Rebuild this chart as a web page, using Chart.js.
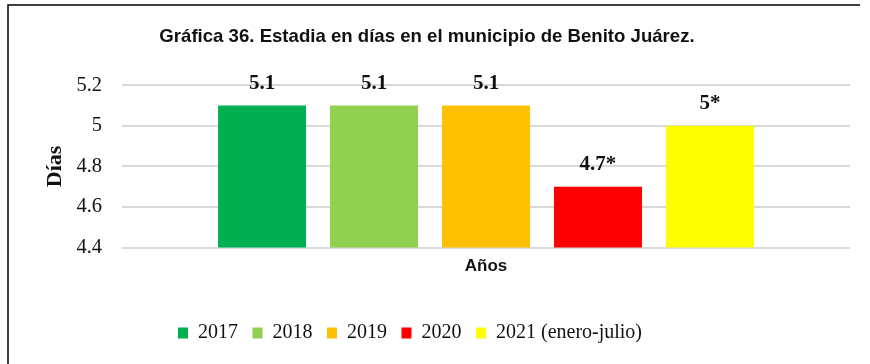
<!DOCTYPE html>
<html>
<head>
<meta charset="utf-8">
<script src="https://cdn.jsdelivr.net/npm/chart.js@4/dist/chart.umd.min.js"></script>
<style>
  html, body { margin: 0; padding: 0; background: #fff; }
  #wrap { position: relative; width: 870px; height: 364px; }
</style>
</head>
<body>
<div id="wrap"><canvas id="c" width="870" height="364"></canvas></div>
<script>
// Stay length (days) per year
const years = ['2017', '2018', '2019', '2020', '2021 (enero-julio)'];
const values = [5.1, 5.1, 5.1, 4.7, 5.0];
const valueLabels = ['5.1', '5.1', '5.1', '4.7*', '5*'];
const barColors = ['#00B050', '#92D050', '#FFC000', '#FF0000', '#FFFF00'];
const yTicks = [4.4, 4.6, 4.8, 5.0, 5.2];

const SERIF = '"Liberation Serif", "Times New Roman", serif';
const SANS = '"Liberation Sans", Arial, sans-serif';

// One dataset per year, all sharing a single category
const datasets = years.map((y, i) => ({
  label: y,
  data: [values[i]],
  backgroundColor: barColors[i],
  borderWidth: 0,
  valueLabel: valueLabels[i]
}));

// Value labels above each bar
const valueLabelPlugin = {
  id: 'valueLabels',
  afterDatasetsDraw(chart) {
    const ctx = chart.ctx;
    ctx.save();
    ctx.font = 'bold 21px ' + SERIF;
    ctx.fillStyle = '#111';
    ctx.textAlign = 'center';
    ctx.textBaseline = 'middle';
    chart.data.datasets.forEach((ds, i) => {
      const bar = chart.getDatasetMeta(i).data[0];
      ctx.fillText(ds.valueLabel, bar.x, bar.y - 22.5);
    });
    ctx.restore();
  }
};

// Nudge the legend row a little to the left of the centre
const legendShiftPlugin = {
  id: 'legendShift',
  afterLayout(chart) {
    if (chart.legend) {
      chart.legend.left -= 17;
      chart.legend.right -= 17;
    }
  }
};

// Outer frame lines (top and left edge)
const framePlugin = {
  id: 'frame',
  afterDraw(chart) {
    const ctx = chart.ctx;
    ctx.save();
    ctx.strokeStyle = '#000';
    ctx.lineWidth = 1.5;
    ctx.beginPath();
    ctx.moveTo(8, 364);
    ctx.lineTo(8, 5);
    ctx.lineTo(860, 5);
    ctx.stroke();
    ctx.restore();
  }
};

new Chart(document.getElementById('c'), {
  type: 'bar',
  data: { labels: [''], datasets },
  plugins: [valueLabelPlugin, legendShiftPlugin, framePlugin],
  options: {
    responsive: false,
    animation: false,
    events: [],
    categoryPercentage: 0.769,
    barPercentage: 0.786,
    layout: { padding: { left: 4, right: 20, top: 4, bottom: 11 } },
    plugins: {
      title: {
        display: true,
        text: 'Gráfica 36. Estadia en días en el municipio de Benito Juárez.',
        font: { family: SANS, size: 18.6, weight: 'bold' },
        color: '#111',
        padding: { top: 21.5, bottom: 37.5 }
      },
      legend: {
        display: true,
        position: 'bottom',
        labels: {
          font: { family: SERIF, size: 20 },
          color: '#111',
          boxWidth: 10,
          boxHeight: 11,
          padding: 14.5
        }
      },
      tooltip: { enabled: false }
    },
    scales: {
      x: {
        grid: { display: false, drawTicks: false },
        border: { display: false },
        ticks: { display: false },
        title: {
          display: true,
          text: 'Años',
          font: { family: SANS, size: 17, weight: 'bold' },
          color: '#111',
          padding: { top: 8.8, bottom: 31.8 }
        }
      },
      y: {
        min: 4.4,
        max: 5.2,
        afterFit(scale) { scale.width = 118; },
        afterBuildTicks(scale) { scale.ticks = yTicks.map(v => ({ value: v })); },
        grid: { color: '#d9d9d9', lineWidth: 2, drawTicks: false },
        border: { display: false },
        ticks: {
          padding: 20,
          font: { family: SERIF, size: 20.5 },
          color: '#111',
          callback: v => String(Math.round(v * 10) / 10)
        },
        title: {
          display: true,
          text: 'Días',
          font: { family: SERIF, size: 22, weight: 'bold' },
          color: '#111',
          padding: { top: 38, bottom: 0 }
        }
      }
    }
  }
});
</script>
</body>
</html>
